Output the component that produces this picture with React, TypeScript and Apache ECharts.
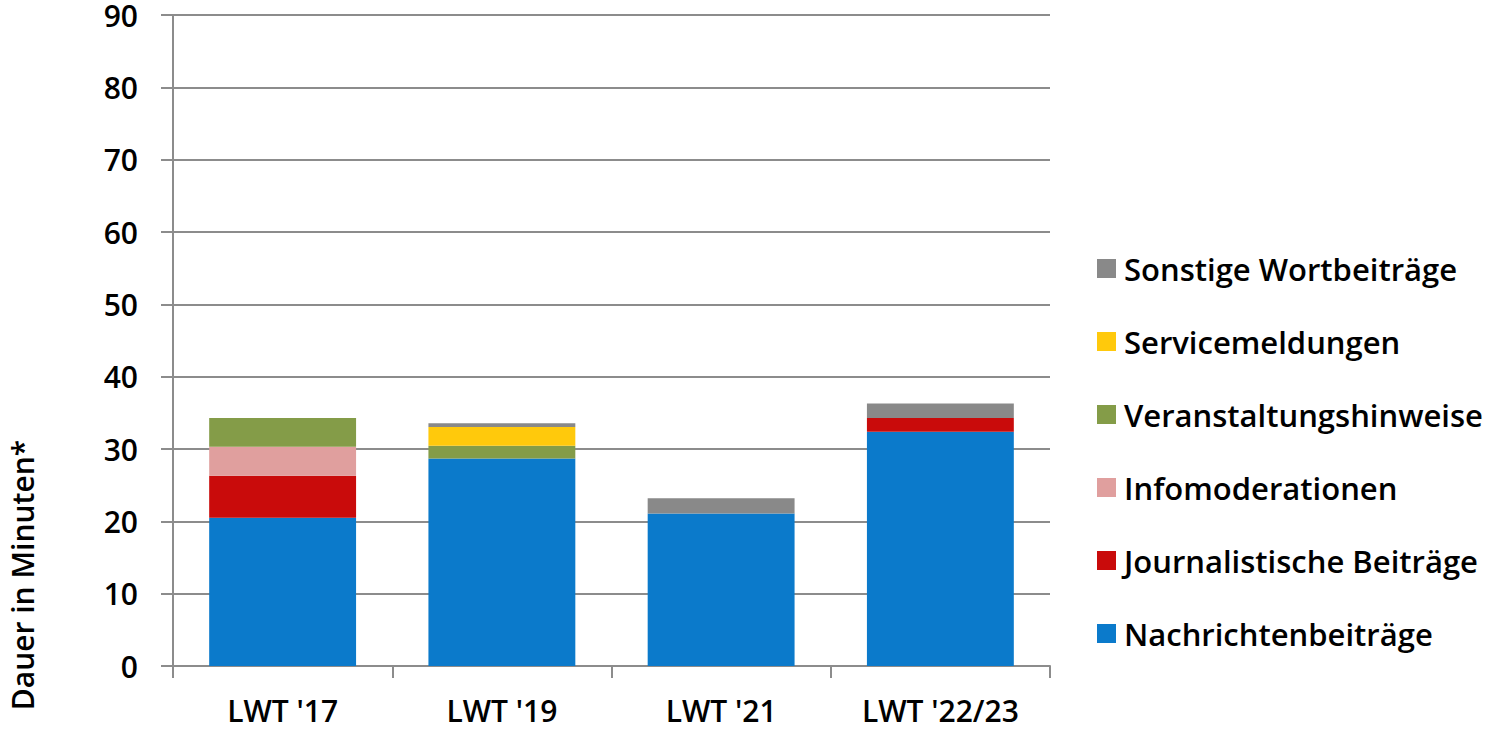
import React, { useEffect, useRef } from "react";
import * as echarts from "echarts";

const categories = ["LWT '17", "LWT '19", "LWT '21", "LWT '22/23"];
const nachrichten = [20.5, 28.7, 21.1, 32.4];
const journalistisch = [5.8, 0, 0, 1.9];
const infomoderation = [4.0, 0, 0, 0];
const veranstaltung = [4.0, 1.75, 0, 0];
const service = [0, 2.6, 0, 0];
const sonstige = [0, 0.5, 2.1, 2.0];
const yTicks = [0, 10, 20, 30, 40, 50, 60, 70, 80, 90];

const FONT = "'Open Sans', 'Noto Sans', sans-serif";

export default function App() {
  const ref = useRef<HTMLDivElement>(null);
  useEffect(() => {
    if (!ref.current) return;
    const chart = echarts.init(ref.current, undefined, { renderer: "svg" });
    const mk = (name: string, data: number[], color: string) => ({
      name,
      type: "bar",
      stack: "total",
      data: data.map((v) => (v === 0 ? null : v)),
      barWidth: "67%",
      itemStyle: { color },
    });
    chart.setOption({
      animation: false,
      grid: { left: 173, right: 442, top: 15, bottom: 64 },
      legend: {
        orient: "vertical",
        left: 1092,
        top: 248,
        itemWidth: 19,
        itemHeight: 19,
        itemGap: 42,
        icon: "rect",
        data: [
          "Sonstige Wortbeiträge",
          "Servicemeldungen",
          "Veranstaltungshinweise",
          "Infomoderationen",
          "Journalistische Beiträge",
          "Nachrichtenbeiträge",
        ],
        textStyle: {
          fontFamily: FONT,
          fontSize: 31,
          fontWeight: 600,
          color: "#000",
          lineHeight: 31,
          padding: [0, 0, 0, 3],
        },
      },
      graphic: [
        {
          type: "text",
          x: 22,
          y: 575,
          rotation: Math.PI / 2,
          style: {
            text: "Dauer in Minuten*",
            fontFamily: FONT,
            fontSize: 30,
            fontWeight: 600,
            fill: "#000",
            align: "center",
            verticalAlign: "middle",
          },
        },
      ],
      xAxis: {
        type: "category",
        data: categories,
        axisLine: { lineStyle: { color: "#8c8c8c", width: 2 } },
        axisTick: { show: true, length: 12, lineStyle: { color: "#8c8c8c", width: 2 } },
        axisLabel: {
          margin: 31,
          lineHeight: 26,
          fontFamily: FONT,
          fontSize: 30,
          fontWeight: 600,
          color: "#000",
        },
      },
      yAxis: {
        type: "value",
        min: yTicks[0],
        max: yTicks[yTicks.length - 1],
        interval: 10,
        axisLine: { show: true, lineStyle: { color: "#8c8c8c", width: 2 } },
        axisTick: { show: true, length: 12, lineStyle: { color: "#8c8c8c", width: 2 } },
        splitLine: { lineStyle: { color: "#8c8c8c", width: 2 } },
        axisLabel: {
          margin: 35,
          lineHeight: 24,
          fontFamily: FONT,
          fontSize: 30,
          fontWeight: 600,
          color: "#000",
        },
      },
      series: [
        mk("Nachrichtenbeiträge", nachrichten, "#0B7ACB"),
        mk("Journalistische Beiträge", journalistisch, "#C90B0B"),
        mk("Infomoderationen", infomoderation, "#E09F9E"),
        mk("Veranstaltungshinweise", veranstaltung, "#849C48"),
        mk("Servicemeldungen", service, "#FFC90C"),
        mk("Sonstige Wortbeiträge", sonstige, "#898989"),
      ],
    });
    return () => chart.dispose();
  }, []);
  return <div ref={ref} style={{ width: 1492, height: 730, position: "absolute", left: 0, top: 0 }} />;
}
